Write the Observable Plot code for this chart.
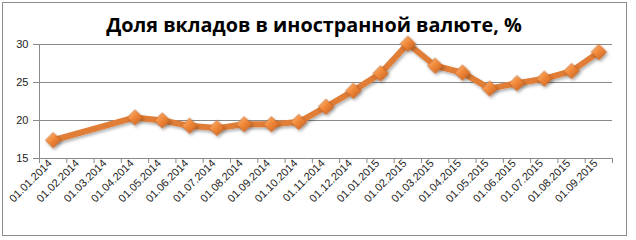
<!DOCTYPE html>
<html><head><meta charset="utf-8">
<script src="https://cdn.jsdelivr.net/npm/d3@7"></script>
<script src="https://cdn.jsdelivr.net/npm/@observablehq/plot@0.6"></script>
<style>
body{margin:0;background:#fff;}
#wrap{position:relative;width:636px;height:240px;overflow:hidden;}
#frame{position:absolute;left:2px;top:2px;width:625px;height:234px;border:1px solid #8c8c8c;box-sizing:border-box;}
#title{position:absolute;left:0;width:628px;top:11px;text-align:center;font:bold 19.8px "Open Sans";color:#000;}
#chart{position:absolute;left:0;top:0;}
</style></head><body>
<div id="wrap"><div id="frame"></div><div id="title">Доля вкладов в иностранной валюте, %</div><div id="chart"></div></div>
<script>
const months = ["01.01.2014","01.02.2014","01.03.2014","01.04.2014","01.05.2014","01.06.2014","01.07.2014","01.08.2014","01.09.2014","01.10.2014","01.11.2014","01.12.2014","01.01.2015","01.02.2015","01.03.2015","01.04.2015","01.05.2015","01.06.2015","01.07.2015","01.08.2015","01.09.2015"];
const values = [17.4,null,null,20.4,20.0,19.3,19.0,19.5,19.5,19.8,21.8,23.9,26.2,30.1,27.2,26.3,24.2,24.9,25.5,26.5,29.0];
const yTicks = [15,20,25,30];

const data = months.map((m,i)=>({i, m, v: values[i]})).filter(d=>d.v!=null);

const chart = Plot.plot({
  width: 636, height: 240,
  marginLeft: 39, marginRight: 24, marginTop: 44, marginBottom: 82,
  style: {fontFamily: "Liberation Sans", fontSize: "10px", color: "#000", background: "transparent", overflow: "visible"},
  x: {type: "linear", domain: [0, months.length], label: null},
  y: {domain: [15, 30], label: null},
  marks: [
    Plot.gridY(yTicks.slice(1), {stroke: "#8a8a8a", strokeOpacity: 1}),
    Plot.ruleY([15], {stroke: "#8a8a8a"}),
    Plot.ruleX([0], {stroke: "#8a8a8a"}),
    Plot.axisY({ticks: yTicks, tickSize: 6, tickPadding: 5, stroke: "#8a8a8a", fontSize: 11, fill: "#222", label: null}),
    Plot.axisX({ticks: d3.range(0, months.length + 1), tickSize: 5, tickFormat: () => "", stroke: "#8a8a8a", label: null}),
    Plot.axisX({ticks: months.map((m,i)=>i+0.5), tickFormat: t => months[Math.round(t-0.5)], tickSize: 0, tickPadding: 3, dx: -3, tickRotate: -45, fontSize: 11, fill: "#222", label: null}),
    Plot.line(data, {x: d=>d.i+0.5, y: "v", stroke: "#E07E37", strokeWidth: 6, strokeLinejoin: "round"}),
    Plot.dot(data, {x: d=>d.i+0.5, y: "v", symbol: "diamond2", r: 7, fill: "url(#dg)", stroke: "#B8591C", strokeWidth: 0.6})
  ]
});
const svg = d3.select(chart);
const defs = svg.insert("defs", ":first-child");
const g = defs.append("linearGradient").attr("id","dg").attr("x1","0").attr("y1","0").attr("x2","1").attr("y2","1");
g.append("stop").attr("offset","0").attr("stop-color","#FBC08A");
g.append("stop").attr("offset","0.45").attr("stop-color","#F28A3A");
g.append("stop").attr("offset","1").attr("stop-color","#C45E1E");
const f = defs.append("filter").attr("id","sh").attr("x","-20%").attr("y","-20%").attr("width","140%").attr("height","160%");
f.append("feDropShadow").attr("dx",1.5).attr("dy",2).attr("stdDeviation",1.5).attr("flood-color","#000").attr("flood-opacity",0.3);
svg.selectAll("g[aria-label='line'], g[aria-label='dot']").attr("filter","url(#sh)");
document.getElementById("chart").appendChild(chart);
</script>
</body></html>
